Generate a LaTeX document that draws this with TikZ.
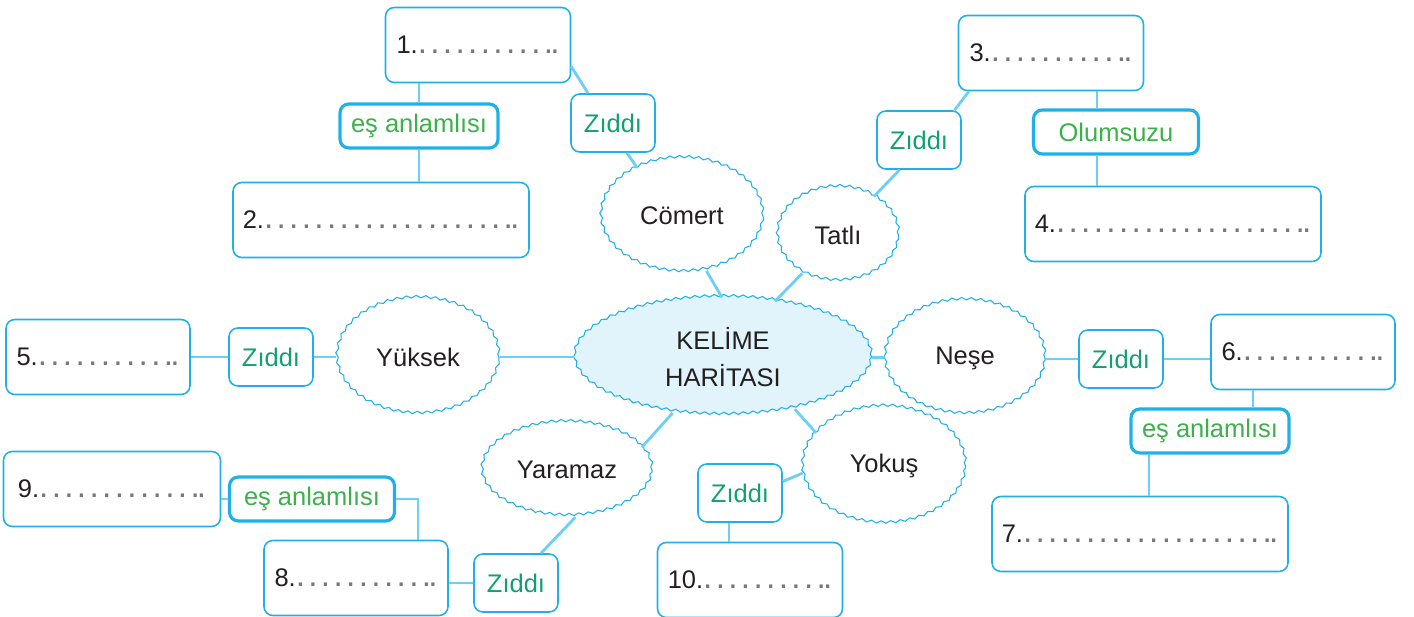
\documentclass[tikz,border=0pt]{standalone}
\usepackage{fontspec}
\setmainfont{Liberation Sans}
\usepackage{xcolor}
\usepackage{tikz}
\usetikzlibrary{shapes.geometric}
\usetikzlibrary{decorations.pathmorphing}

\definecolor{kutumavi}{RGB}{32,176,232}
\definecolor{bagmavi}{RGB}{109,207,246}
\definecolor{merkezdolgu}{RGB}{225,243,251}
\definecolor{yesil}{RGB}{60,176,74}
\definecolor{zityesil}{RGB}{18,160,115}
\definecolor{noktagri}{RGB}{120,120,120}
\definecolor{yazi}{RGB}{35,31,32}

\newcommand{\bosluk}[1]{{\fontsize{19}{19}\selectfont\textcolor{noktagri}{\foreach \k in {1,...,#1}{.\kern1.9pt}\kern-3.6pt.}}}

\begin{document}
\begin{tikzpicture}[x=0.02cm,y=-0.02cm,
        every node/.style={font=\fontsize{14.5}{21.5}\selectfont,text=yazi},
        kutu/.style={draw=kutumavi,line width=0.9pt,rounded corners=5pt,inner sep=0pt,minimum height=1.5cm},
        zit/.style={draw=kutumavi,line width=0.9pt,rounded corners=5pt,inner sep=0pt,minimum width=1.68cm,minimum height=1.16cm,text=zityesil},
        ilgi/.style={draw=kutumavi,line width=1.8pt,rounded corners=5pt,inner sep=0pt,minimum height=0.88cm,text=yesil},
        dalga/.style={ellipse,draw=kutumavi,line width=0.6pt,inner sep=0pt,decorate,decoration={snake,segment length=5.5pt,amplitude=0.7pt}},
        bag/.style={draw=bagmavi,line width=1.6pt}]
    \useasboundingbox (0,0) rectangle (1414,617);

    \node[dalga,fill=merkezdolgu,minimum width=5.94cm,minimum height=2.36cm,align=center] (merkez) at (723,357) {KEL\.{I}ME\\HAR\.{I}TASI};
    \node[dalga,minimum width=3.24cm,minimum height=2.28cm] (comert) at (682,216) {Cömert};
    \node[dalga,minimum width=2.42cm,minimum height=1.88cm] (tatli) at (838,235) {Tatlı};
    \node[dalga,minimum width=3.24cm,minimum height=2.32cm] (yuksek) at (418,357) {Yüksek};
    \node[dalga,minimum width=3.2cm,minimum height=2.28cm] (nese) at (965,358) {Neşe};
    \node[dalga,minimum width=3.26cm,minimum height=2.34cm] (yokus) at (884,466) {Yokuş};
    \node[dalga,minimum width=3.4cm,minimum height=1.88cm] (yaramaz) at (567,470) {Yaramaz};

    \node[kutu,minimum width=3.7cm] (k1) at (478,45) {1.\bosluk{11}};
    \node[kutu,minimum width=5.92cm] (k2) at (381,220) {2.\bosluk{20}};
    \node[kutu,minimum width=3.7cm] (k3) at (1051,53) {3.\bosluk{11}};
    \node[kutu,minimum width=5.92cm] (k4) at (1173,224) {4.\bosluk{20}};
    \node[kutu,minimum width=3.68cm] (k5) at (98,357) {5.\bosluk{11}};
    \node[kutu,minimum width=3.68cm] (k6) at (1303,352) {6.\bosluk{11}};
    \node[kutu,minimum width=5.92cm] (k7) at (1140,534) {7.\bosluk{20}};
    \node[kutu,minimum width=3.68cm] (k8) at (356,578) {8.\bosluk{11}};
    \node[kutu,minimum width=4.34cm] (k9) at (112,489) {9.\bosluk{13}};
    \node[kutu,minimum width=3.7cm] (k10) at (750,580) {10.\bosluk{10}};

    \node[zit] (z1) at (613,123) {Zıddı};
    \node[zit] (z2) at (919,140) {Zıddı};
    \node[zit] (z5) at (271,357) {Zıddı};
    \node[zit] (z6) at (1121,359) {Zıddı};
    \node[zit] (z8) at (516,583) {Zıddı};
    \node[zit] (z10) at (740,493) {Zıddı};

    \node[ilgi,minimum width=3.16cm] (e1) at (419,126) {eş anlamlısı};
    \node[ilgi,minimum width=3.3cm] (olm) at (1116,132) {Olumsuzu};
    \node[ilgi,minimum width=3.16cm] (e6) at (1210,431) {eş anlamlısı};
    \node[ilgi,minimum width=3.3cm] (e9) at (312,499) {eş anlamlısı};

    \coordinate (k3x) at ([xshift=0.92cm]k3.south);
    \coordinate (k6x) at ([xshift=-1cm]k6.south);
    \coordinate (e6x) at ([xshift=-1.22cm]e6.south);
    \coordinate (z10x) at ([xshift=-0.22cm]z10.south);
    \coordinate (k8x) at ([xshift=1.24cm]k8.north);

    \draw[bag] (e1.north) -- (e1.north |- k1.south);
    \draw[bag] (e1.south) -- (e1.south |- k2.north);
    \draw[bag] (k1.-13) -- (z1.130);
    \draw[bag] (z1.-65) -- (comert.133);
    \draw[bag] (comert.-66) -- (merkez.91);
    \draw[bag] (tatli.227) -- (merkez.47);
    \draw[bag] (tatli.47) -- (z2.237);
    \draw[bag] (z2.40) -- (k3.205);
    \draw[bag] (k3x) -- (k3x |- olm.north);
    \draw[bag] (k3x |- olm.south) -- (k3x |- k4.north);
    \draw[bag] (merkez) -- (yuksek);
    \draw[bag] (yuksek) -- (z5);
    \draw[bag] (z5) -- (k5);
    \draw[bag] (merkez) -- (nese);
    \draw[bag] (z6.west) -- (z6.west -| nese.east);
    \draw[bag] (z6.east) -- (z6.east -| k6.west);
    \draw[bag] (k6x) -- (k6x |- e6.north);
    \draw[bag] (e6x) -- (e6x |- k7.north);
    \draw[bag] (merkez.-36) -- (yokus.154);
    \draw[bag] (yokus.185) -- (z10.15);
    \draw[bag] (z10x) -- (z10x |- k10.north);
    \draw[bag] (merkez.228) -- (yaramaz.17);
    \draw[bag] (yaramaz.-80) -- (z8.50);
    \draw[bag] (z8.west) -- (z8.west -| k8.east);
    \draw[bag] (e9.east) -| (k8x);
    \draw[bag] (e9.west) -- (e9.west -| k9.east);
\end{tikzpicture}
\end{document}
